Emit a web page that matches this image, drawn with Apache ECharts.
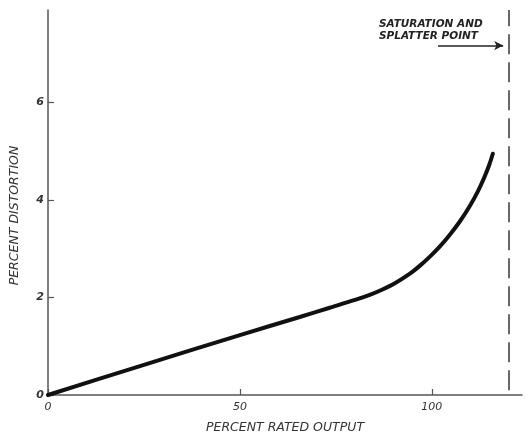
<!DOCTYPE html>
<html>
<head>
<meta charset="utf-8">
<script src="https://cdn.jsdelivr.net/npm/echarts@6/dist/echarts.min.js"></script>
<style>
  html, body { margin: 0; padding: 0; background: #fff; }
  #chart { width: 527px; height: 437px; }
</style>
</head>
<body>
<div id="chart"></div>
<script>
// Distortion versus output level
const ratedOutput = [0, 25, 50, 65.6, 73.4, 80, 84, 87, 90.5, 94.3, 97, 99.5, 102, 104.7, 107.3, 109.9, 112, 113.8, 115, 115.9];
const distortion  = [0, 0.62, 1.23, 1.60, 1.79, 1.95, 2.06, 2.16, 2.30, 2.49, 2.66, 2.84, 3.04, 3.29, 3.56, 3.88, 4.18, 4.49, 4.73, 4.95];
const saturationPoint = 120;
const xTicks = [0, 50, 100];
const yTicks = [0, 2, 4, 6];

const font = '"DejaVu Sans", "Liberation Sans", sans-serif';
const chart = echarts.init(document.getElementById('chart'));

chart.setOption({
  animation: false,
  backgroundColor: '#fff',
  grid: { left: 48, width: 474, top: 10, height: 385, containLabel: false, outerBoundsMode: 'none' },
  xAxis: {
    type: 'value', min: 0, max: 123.5, interval: 50,
    name: 'PERCENT RATED OUTPUT', nameLocation: 'middle', nameGap: 26,
    nameTextStyle: { fontFamily: font, fontStyle: 'italic', fontSize: 12.5, color: '#333' },
    axisLine: { show: true, onZero: false, lineStyle: { color: '#555', width: 1.5 } },
    axisTick: { show: true, inside: true, length: 6, lineStyle: { color: '#555', width: 1.2 } },
    axisLabel: {
      showMaxLabel: false, margin: 7, fontFamily: font, fontStyle: 'italic', fontSize: 11, color: '#333',
      formatter: v => xTicks.includes(v) ? String(v) : ''
    },
    splitLine: { show: false }
  },
  yAxis: {
    type: 'value', min: 0, max: 7.9, interval: 2,
    name: 'PERCENT DISTORTION', nameLocation: 'middle', nameGap: 27, nameRotate: 90,
    nameTextStyle: { fontFamily: font, fontStyle: 'italic', fontSize: 12.5, color: '#333', padding: [0, 26, 0, 0] },
    axisLine: { show: true, lineStyle: { color: '#555', width: 1.5 } },
    axisTick: { show: true, inside: true, length: 6, lineStyle: { color: '#555', width: 1.2 } },
    axisLabel: {
      showMaxLabel: false, margin: 4, fontFamily: font, fontStyle: 'italic', fontWeight: 'bold', fontSize: 11, color: '#333',
      formatter: v => yTicks.includes(v) ? String(v) : ''
    },
    splitLine: { show: false }
  },
  series: [
    {
      type: 'line',
      data: ratedOutput.map((x, i) => [x, distortion[i]]),
      smooth: 0.25,
      showSymbol: false,
      lineStyle: { color: '#111', width: 4, cap: 'round' },
      markLine: {
        silent: true,
        symbol: ['none', 'none'],
        label: { show: false },
        data: [
          [
            { coord: [saturationPoint, 0.1], lineStyle: { color: '#444', width: 1.6, type: [20, 8] } },
            { coord: [saturationPoint, 7.9] }
          ],
          [
            { coord: [101.6, 7.17], symbol: 'none', lineStyle: { color: '#222', width: 1.5, type: 'solid' } },
            { coord: [118.6, 7.17], symbol: 'arrow', symbolSize: [7, 9] }
          ]
        ]
      }
    }
  ],
  graphic: [
    {
      type: 'text', left: 379, top: 18,
      style: {
        text: 'SATURATION AND\nSPLATTER POINT',
        font: 'italic bold 10.5px ' + font,
        fill: '#222', lineHeight: 12
      }
    }
  ]
});
</script>
</body>
</html>
